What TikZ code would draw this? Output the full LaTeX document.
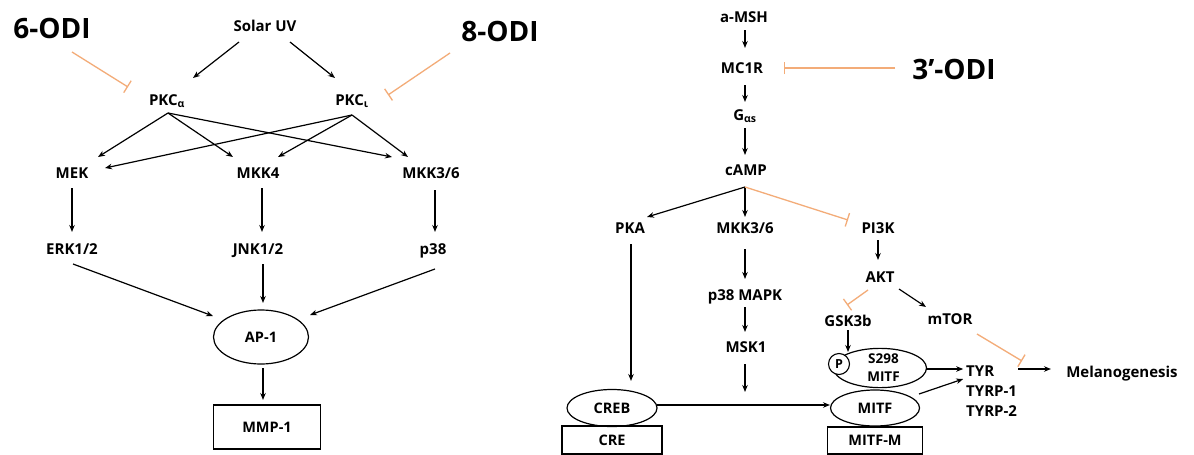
\documentclass[tikz,border=0pt]{standalone}
\usepackage{fontspec}
\setmainfont{Open Sans}
\usetikzlibrary{arrows.meta,shapes.geometric}
\definecolor{inhc}{RGB}{243,172,120}
\begin{document}
\begin{tikzpicture}[x=1pt,y=-1pt,
  lbl/.style={font=\bfseries\fontsize{15}{19}\selectfont, inner sep=0pt, text height=12pt, text depth=4pt},
  big/.style={font=\bfseries\fontsize{28}{32}\selectfont, inner sep=0pt},
  act/.style={line width=1.2pt, -{Stealth[length=7pt,width=5.5pt]}},
  inh/.style={line width=1.3pt, draw=inhc, -{Bar[width=14pt,line width=1.3pt]}},
  oval/.style={ellipse, draw, line width=1.2pt, inner sep=0pt, font=\bfseries\fontsize{14.5}{19}\selectfont, align=center},
  bx/.style={rectangle, draw, line width=1.2pt, inner sep=0pt, font=\bfseries\fontsize{14.5}{17}\selectfont}]
\path[use as bounding box, fill=white] (0,0) rectangle (1194,455);

% ---------- left pathway ----------
\node[big] (odi6) at (52,28) {6-ODI};
\node[lbl] (uv) at (265,27) {Solar UV};
\node[big] (odi8) at (500,31) {8-ODI};
\node[lbl] (pkca) at (167,101) {PKC\textsubscript{α}};
\node[lbl] (pkci) at (352,101) {PKC\textsubscript{ι}};
\node[lbl] (mek) at (72,174) {MEK};
\node[lbl] (mkk4) at (258,174) {MKK4};
\node[lbl] (mkkL) at (431,174) {MKK3/6};
\node[lbl] (erk) at (72,250) {ERK1/2};
\node[lbl] (jnk) at (258,250) {JNK1/2};
\node[lbl] (p38) at (433,250) {p38};
\node[oval, minimum width=95pt, minimum height=54pt] (ap1) at (261,337) {AP-1};
\node[bx, minimum width=107pt, minimum height=44pt] (mmp) at (267,427) {MMP-1};

\draw[inh] ([shift={(20,24)}]odi6.center) -- ([shift={(-39,-14)}]pkca.center);
\draw[inh] ([shift={(-50,22)}]odi8.center) -- ([shift={(36,-6)}]pkci.center);
\draw[act] ([shift={(-26,15)}]uv.center) -- ([shift={(26,-23)}]pkca.center);
\draw[act] ([shift={(25,15)}]uv.center) -- ([shift={(-17,-23)}]pkci.center);
\draw[act] ([shift={(1,12)}]pkca.center) -- ([shift={(26,-17)}]mek.center);
\draw[act] ([shift={(1,12)}]pkca.center) -- ([shift={(-25,-17)}]mkk4.center);
\draw[act] ([shift={(1,12)}]pkca.center) -- ([shift={(-39,-17)}]mkkL.center);
\draw[act] ([shift={(0,14)}]pkci.center) -- ([shift={(33,-6)}]mek.center);
\draw[act] ([shift={(0,14)}]pkci.center) -- ([shift={(20,-17)}]mkk4.center);
\draw[act] ([shift={(0,14)}]pkci.center) -- ([shift={(-23,-17)}]mkkL.center);
\draw[act] ([shift={(0,14)}]mek.center) -- ([shift={(0,-18)}]erk.center);
\draw[act] ([shift={(4,14)}]mkk4.center) -- ([shift={(4,-18)}]jnk.center);
\draw[act] ([shift={(4,16)}]mkkL.center) -- ([shift={(2,-18)}]p38.center);
\draw[act] ([shift={(1,14)}]erk.center) -- ([shift={(-48,-21)}]ap1.center);
\draw[act] ([shift={(5,14)}]jnk.center) -- ([shift={(2,-34)}]ap1.center);
\draw[act] ([shift={(2,19)}]p38.center) -- ([shift={(49,-22)}]ap1.center);
\draw[act] ([shift={(2,31)}]ap1.center) -- ([shift={(-4,-27)}]mmp.center);

% ---------- right pathway ----------
\node[lbl] (amsh) at (744,18) {a-MSH};
\node[lbl] (mc1r) at (742,69) {MC1R};
\node[big] (odi3) at (954,69) {3’-ODI};
\node[lbl] (gas) at (745,116) {G\textsubscript{αs}};
\node[lbl] (camp) at (746,171) {cAMP};
\node[lbl] (pka) at (630,229) {PKA};
\node[lbl] (mkkR) at (745,229) {MKK3/6};
\node[lbl] (pi3k) at (878,229) {PI3K};
\node[lbl] (p38m) at (745,296) {p38 MAPK};
\node[lbl] (msk1) at (746,348) {MSK1};
\node[lbl] (akt) at (880,278) {AKT};
\node[lbl] (gsk) at (848,322) {GSK3b};
\node[lbl] (mtor) at (950,320) {mTOR};
\node[oval, minimum width=93pt, minimum height=38pt, font=\bfseries\fontsize{13.5}{18}\selectfont] (pm) at (880,368) {\hspace*{7pt}S298\\\hspace*{7pt}MITF};
\node[circle, draw, line width=1.1pt, fill=white, inner sep=0pt, minimum size=21pt, font=\bfseries\fontsize{12.5}{15}\selectfont] (pc) at (839,364) {P};
\node[oval, minimum width=89pt, minimum height=36pt] (mitf) at (875,408) {MITF};
\node[bx, minimum width=95pt, minimum height=27pt] (mitfm) at (875,440.5) {MITF-M};
\node[oval, minimum width=90pt, minimum height=37pt] (creb) at (612,408) {CREB};
\node[bx, minimum width=100pt, minimum height=28pt] (cre) at (612,440) {CRE};
\node[lbl, anchor=west] (tyr) at (966,372) {TYR};
\node[lbl, anchor=west] (tyrp1) at (966,392) {TYRP-1};
\node[lbl, anchor=west] (tyrp2) at (966,412) {TYRP-2};
\node[lbl] (mel) at (1122,373) {Melanogenesis};
\coordinate (mskend) at (745,392);
\coordinate (mtorinh) at (1022,361);

\draw[act] ([shift={(1,12)}]amsh.center) -- ([shift={(3,-21)}]mc1r.center);
\draw[act] ([shift={(3,16)}]mc1r.center) -- ([shift={(0,-14)}]gas.center);
\draw[act] ([shift={(0,12)}]gas.center) -- ([shift={(-1,-16)}]camp.center);
\draw[inh, -{Bar[width=12pt,line width=1.3pt]}] ([shift={(-59,-1)}]odi3.center) -- ([shift={(42,-1)}]mc1r.center);
\draw[act] ([shift={(-1,16)}]camp.center) -- ([shift={(17,-12)}]pka.center);
\draw[act] ([shift={(-1,16)}]camp.center) -- ([shift={(0,-12)}]mkkR.center);
\draw[inh] ([shift={(-1,16)}]camp.center) -- ([shift={(-30,-9)}]pi3k.center);
\draw[act] ([shift={(1,15)}]pka.center) -- ([shift={(19,-27)}]creb.center);
\draw[act] ([shift={(0,20)}]mkkR.center) -- ([shift={(0,-17)}]p38m.center);
\draw[act] ([shift={(0,11)}]p38m.center) -- ([shift={(-1,-16)}]msk1.center);
\draw[act] ([shift={(-1,16)}]msk1.center) -- (mskend);
\draw[act] ([shift={(0,11)}]pi3k.center) -- ([shift={(-2,-18)}]akt.center);
\draw[inh] ([shift={(-12,12)}]akt.center) -- ([shift={(-1,-17)}]gsk.center);
\draw[act] ([shift={(19,11)}]akt.center) -- ([shift={(-24,-13)}]mtor.center);
\draw[act] ([shift={(0,8)}]gsk.center) -- ([shift={(-32,-16)}]pm.center);
\draw[inh] ([shift={(27,14)}]mtor.center) -- (mtorinh);
\draw[act] ([shift={(46,1)}]pm.center) -- ([shift={(-17,-3)}]tyr.center);
\draw[act] ([shift={(44,-14)}]mitf.center) -- ([shift={(-17,7)}]tyr.center);
\draw[act] ([shift={(38,-3)}]tyr.center) -- ([shift={(-71,-4)}]mel.center);
\draw[act] ([shift={(45,-3)}]creb.center) -- ([shift={(-45,-3)}]mitf.center);
\end{tikzpicture}
\end{document}
